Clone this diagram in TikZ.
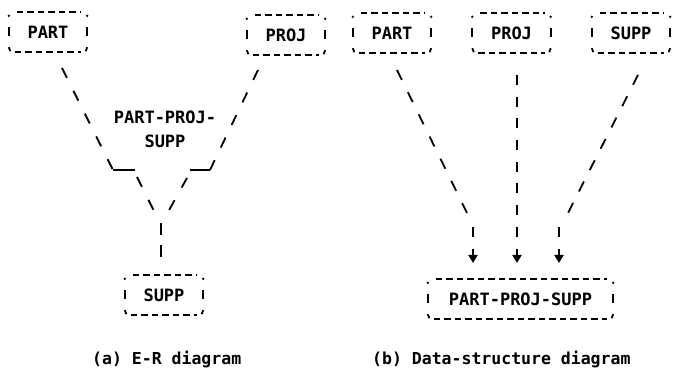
\documentclass[tikz,border=0pt]{standalone}
\usepackage{fontspec}
\setmonofont{DejaVu Sans Mono}
\usetikzlibrary{arrows.meta}

\tikzset{
  ink/.style={line width=1.8pt, black},
  boxlabel/.style={inner sep=0pt, minimum height=40pt, align=center,
    font=\ttfamily\bfseries\fontsize{17}{24}\selectfont},
  boxedge/.style={ink, dash pattern=on 6.5pt off 4pt},
  boxside/.style={ink},
  slashline/.style={ink, dash pattern=on 11pt off 14.5pt},
  longslash/.style={ink, dash pattern=on 11pt off 13.2pt},
  pipeline/.style={ink, dash pattern=on 10pt off 11.7pt},
  arrowline/.style={pipeline, -{Triangle[width=9pt,length=8pt]}},
  undertext/.style={anchor=west, inner sep=0pt,
    font=\ttfamily\bfseries\fontsize{16.5}{20}\selectfont},
}

% typewriter-style box: dashed top and bottom, short side bars, corner marks
\newcommand\asciibox[4][78]{%
  \node[boxlabel, minimum width=#1pt] (#2) at #3 {#4};
  \draw[boxedge] ([xshift=8pt]#2.north west) -- ([xshift=-6pt]#2.north east);
  \draw[boxedge] ([xshift=6pt]#2.south west) -- ([xshift=-6pt]#2.south east);
  \draw[boxside] ([yshift=4.5pt]#2.west) -- ([yshift=-4.5pt]#2.west);
  \draw[boxside] ([yshift=4.5pt]#2.east) -- ([yshift=-4.5pt]#2.east);
  \fill ([yshift=-4pt]#2.north west) circle (1.3pt);
  \fill ([yshift=-4pt]#2.north east) circle (1.3pt);
  \draw[boxside] ([yshift=5pt]#2.south west) -- ++(1.5pt,-4pt);
  \draw[boxside] ([yshift=5pt]#2.south east) -- ++(-1.5pt,-4pt);
}

\begin{document}
\begin{tikzpicture}[x=1pt, y=-1pt]
  \fill[white] (0,0) rectangle (673,371);
  \useasboundingbox (0,0) rectangle (673,371);

  % ---------- (a) E-R diagram ----------
  \asciibox{partA}{(48,32)}{PART}
  \asciibox{projA}{(286,35)}{PROJ}
  \asciibox{suppA}{(164,295)}{SUPP}
  \node[boxlabel, minimum height=0pt] (relA) at (165,129) {PART-PROJ-\\SUPP};

  \coordinate (pa1) at (62,68);   \coordinate (pa2) at (113,170);
  \coordinate (ba2) at (135,170);
  \coordinate (la1) at (137,177); \coordinate (la2) at (154,211);
  \coordinate (pj1) at (258,70);  \coordinate (pj2) at (210,170);
  \coordinate (bj2) at (190,170);
  \coordinate (lj1) at (187,178); \coordinate (lj2) at (168,212);
  \coordinate (v1) at (161,223);  \coordinate (v2) at (161,257);

  \draw[slashline] (pa1) -- (pa2);
  \draw[ink] (pa2) -- (ba2);
  \draw[slashline] (la1) -- (la2);
  \draw[ink, dash pattern=on 11pt off 14pt] (pj1) -- (pj2);
  \draw[ink] (pj2) -- (bj2);
  \draw[slashline] (lj1) -- (lj2);
  \draw[ink, dash pattern=on 12pt off 10pt] (v1) -- (v2);

  % ---------- (b) Data-structure diagram ----------
  \asciibox{partB}{(392,33)}{PART}
  \asciibox{projB}{(511.5,33)}{PROJ}
  \asciibox{suppB}{(631,33)}{SUPP}
  \asciibox[185]{relB}{(520.5,299)}{PART-PROJ-SUPP}

  \coordinate (b1) at (397,70);  \coordinate (b2) at (467,213);
  \coordinate (b3) at (473,227); \coordinate (b4) at (473,263);
  \coordinate (m1) at (517,75);  \coordinate (m2) at (517,263);
  \coordinate (s1) at (638,75);  \coordinate (s2) at (568,213);
  \coordinate (s3) at (559,227); \coordinate (s4) at (559,263);

  \draw[ink, dash pattern=on 11pt off 13.7pt] (b1) -- (b2);
  \draw[arrowline] (b3) -- (b4);
  \draw[arrowline] (m1) -- (m2);
  \draw[ink, dash pattern=on 11pt off 12.9pt] (s1) -- (s2);
  \draw[arrowline] (s3) -- (s4);

  % ---------- captions ----------
  \node[undertext] (capA) at (92,360) {(a) E-R diagram};
  \node[undertext] (capB) at (372,360) {(b) Data-structure diagram};
\end{tikzpicture}
\end{document}
